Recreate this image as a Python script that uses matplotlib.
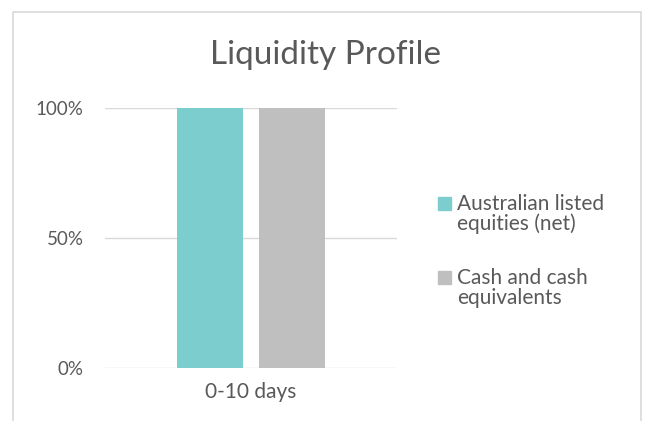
import matplotlib.pyplot as plt
import matplotlib.patches as mpatches
from matplotlib.ticker import FuncFormatter

plt.rcParams['font.family'] = ['Lato', 'DejaVu Sans']

categories = ['0-10 days']
series = ['Australian listed\nequities (net)', 'Cash and cash\nequivalents']
values = [[1.0], [1.0]]
colors = ['#7BCDCE', '#BFBFBF']
yticks = [0, 0.5, 1.0]

W, H = 647, 421
TXT = '#595959'
fig = plt.figure(figsize=(W / 100, H / 100), dpi=100)
fig.patch.set_facecolor('white')

# chart border
fig.patches.append(mpatches.Rectangle((12.5 / W, -0.05), (641 - 12.5) / W, (H - 11.5) / H + 0.05,
                                      transform=fig.transFigure, fill=False,
                                      edgecolor='#D9D9D9', lw=1.2))

ax = fig.add_axes([105 / W, 53 / H, 292 / W, 260 / H])
width = 0.226
offs = [-0.1413, 0.1413]
for i in range(len(series)):
    ax.bar([x + offs[i] for x in range(len(categories))], values[i], width,
           color=colors[i], label=series[i], zorder=3)

ax.set_xlim(-0.5, 0.5)
ax.set_ylim(0, 1.0)
ax.set_yticks(yticks)
ax.yaxis.set_major_formatter(FuncFormatter(lambda v, p: '%d%%' % round(v * 100)))
ax.set_xticks(range(len(categories)))
ax.set_xticklabels(categories)
ax.grid(axis='y', color='#D9D9D9', lw=1, zorder=0)
ax.set_axisbelow(True)
for s in ax.spines.values():
    s.set_visible(False)
ax.tick_params(length=0, colors=TXT)
ax.tick_params(axis='y', pad=15.5, labelsize=13.5)
ax.tick_params(axis='x', pad=10, labelsize=15)

fig.text(325 / W, 1 - 55 / H, 'Liquidity Profile', ha='center', va='center',
         fontsize=24, color=TXT)

# legend, square next to first line of each entry
leg_y = [203, 277]
for i in range(len(series)):
    y0 = leg_y[i]
    fig.patches.append(mpatches.Rectangle((438 / W, 1 - (y0 + 6.5) / H), 13 / W, 13 / H,
                                          transform=fig.transFigure, color=colors[i]))
    fig.text(457 / W, 1 - (y0 - 9) / H, series[i], ha='left', va='top',
             fontsize=15, color=TXT, linespacing=0.97)

fig.savefig('out.png', dpi=100)
